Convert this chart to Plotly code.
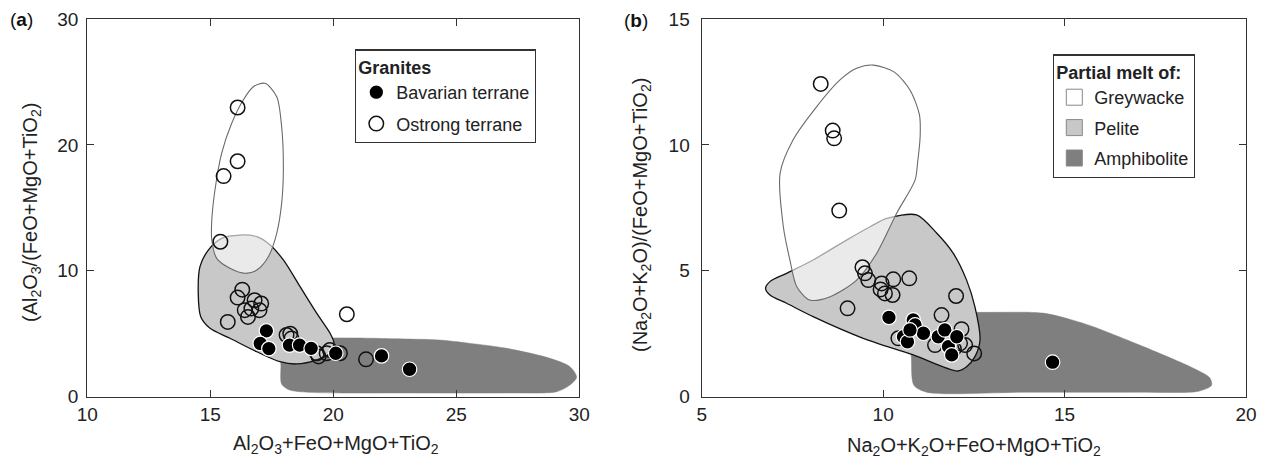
import plotly.graph_objects as go

# ---------------- data: panel (a) ----------------
a_ostrong_x = [16.11, 16.11, 15.54, 15.41, 16.30, 16.11, 16.80, 17.07, 16.40, 16.67, 17.00,
               16.53, 15.71, 20.55, 18.10, 18.30, 18.25, 19.33, 19.73, 19.86, 20.27, 21.33, 19.40]
a_ostrong_y = [22.97, 18.70, 17.52, 12.31, 8.50, 7.87, 7.66, 7.40, 6.87, 7.00, 6.87,
               6.34, 5.94, 6.55, 4.90, 4.63, 5.00, 3.45, 3.45, 3.71, 3.45, 2.97, 3.20]
a_bav_x = [17.28, 17.03, 17.38, 18.22, 18.63, 19.10, 20.10, 21.96, 23.10]
a_bav_y = [5.23, 4.23, 3.82, 4.10, 4.10, 3.84, 3.45, 3.24, 2.18]

a_grey_x = [17.22, 17.70, 17.90, 17.97, 17.90, 17.70, 17.36, 16.89, 16.41, 15.80, 15.26,
            15.06, 15.06, 15.19, 15.46, 15.87, 16.34, 16.75, 17.22]
a_grey_y = [24.89, 23.83, 21.45, 18.00, 15.36, 12.98, 11.12, 10.06, 9.80, 10.20, 10.99,
            12.45, 14.03, 16.42, 19.33, 21.72, 23.57, 24.62, 24.89]
a_pel_x = [16.21, 16.89, 17.43, 17.97, 18.65, 19.33, 19.87, 20.03, 19.87, 19.33, 18.51,
           17.83, 16.89, 15.80, 14.99, 14.61, 14.51, 14.58, 14.92, 15.46, 16.21]
a_pel_y = [12.84, 12.71, 12.05, 10.86, 8.74, 6.62, 5.04, 4.24, 3.45, 2.92, 2.60,
           2.78, 3.57, 4.64, 5.43, 6.35, 8.21, 10.33, 11.65, 12.58, 12.84]
a_amp_x = [17.87, 18.10, 19.00, 21.00, 22.50, 24.30, 25.50, 27.05, 28.80, 29.62, 29.89,
           29.60, 29.08, 27.00, 23.00, 19.00, 18.20, 17.90, 17.87, 17.87]
a_amp_y = [4.30, 4.62, 4.66, 4.66, 4.60, 4.50, 4.25, 3.84, 3.05, 2.38, 1.55,
           0.90, 0.40, 0.30, 0.30, 0.35, 0.55, 1.00, 2.50, 4.30]

# ---------------- data: panel (b) ----------------
b_ostrong_x = [8.28, 8.61, 8.65, 8.79, 9.43, 9.50, 9.59, 9.96, 10.28, 10.72, 10.05, 10.26,
               9.93, 9.02, 12.01, 11.61, 12.16, 12.51, 12.12, 12.26, 11.43, 10.42, 11.75, 11.95]
b_ostrong_y = [12.42, 10.57, 10.26, 7.39, 5.14, 4.90, 4.63, 4.50, 4.66, 4.70, 4.10, 4.04,
               4.26, 3.51, 4.00, 3.24, 2.68, 1.72, 2.12, 2.05, 2.05, 2.32, 2.40, 1.90]
b_bav_x = [10.16, 10.83, 10.88, 11.11, 10.56, 10.67, 11.52, 11.70, 11.80, 11.89, 12.03, 10.74, 14.67]
b_bav_y = [3.15, 3.05, 2.85, 2.52, 2.38, 2.18, 2.38, 2.65, 1.99, 1.66, 2.38, 2.65, 1.37]

b_grey_x = [9.27, 9.73, 10.30, 10.74, 11.00, 11.02, 10.95, 10.88, 10.37, 9.82, 9.27,
            8.54, 7.98, 7.62, 7.43, 7.25, 7.16, 7.52, 8.17, 8.81, 9.27]
b_grey_y = [13.04, 13.17, 12.90, 12.18, 11.20, 10.33, 9.30, 8.60, 7.28, 5.69, 4.63,
            3.97, 3.84, 4.37, 5.43, 6.75, 8.87, 10.20, 11.52, 12.58, 13.04]
b_pel_x = [10.10, 10.92, 11.48, 11.93, 12.30, 12.53, 12.67, 12.53, 12.30, 12.05, 10.83,
           9.45, 8.07, 7.34, 6.88, 6.76, 6.88, 7.34, 8.07, 8.99, 9.64, 10.10]
b_pel_y = [7.08, 7.22, 6.49, 5.70, 4.63, 3.57, 2.25, 1.59, 1.19, 1.02, 1.66,
           2.32, 3.18, 3.71, 4.04, 4.30, 4.57, 4.90, 5.43, 6.22, 6.75, 7.08]
b_amp_x = [10.79, 10.95, 11.50, 13.00, 14.40, 15.20, 15.79, 17.17, 18.55, 19.00, 19.05,
           18.70, 17.00, 14.00, 11.20, 10.85, 10.78, 10.79]
b_amp_y = [2.90, 3.22, 3.32, 3.35, 3.32, 3.05, 2.78, 1.99, 1.13, 0.75, 0.45,
           0.22, 0.18, 0.18, 0.18, 0.45, 1.50, 2.90]

a_xticks = [10, 15, 20, 25, 30]
a_yticks = [0, 10, 20, 30]
a_yticks_right = [6, 12, 18, 24]
b_xticks = [5, 10, 15, 20]
b_yticks = [0, 5, 10, 15]

melt_names = ["Greywacke", "Pelite", "Amphibolite"]
melt_colors = ["#ffffff", "#c8c8c8", "#7f7f7f"]

FONT = "Liberation Sans, Arial, sans-serif"
W, H = 1268, 471


def px(v):
    return v / W


def py(v):
    return 1 - v / H


fig = go.Figure()


def add_panel(xa, ya, grey, pel, amp, ost, bav, first):
    fig.add_trace(go.Scatter(x=amp[0], y=amp[1], xaxis=xa, yaxis=ya, mode="lines",
                             fill="toself", fillcolor=melt_colors[2],
                             line=dict(color=melt_colors[2], width=0.5, shape="spline", smoothing=0.8),
                             showlegend=False, hoverinfo="skip"))
    fig.add_trace(go.Scatter(x=pel[0], y=pel[1], xaxis=xa, yaxis=ya, mode="lines",
                             fill="toself", fillcolor=melt_colors[1],
                             line=dict(color="#111111", width=1.3, shape="spline", smoothing=0.8),
                             showlegend=False, hoverinfo="skip"))
    fig.add_trace(go.Scatter(x=grey[0], y=grey[1], xaxis=xa, yaxis=ya, mode="lines",
                             fill="toself", fillcolor="rgba(255,255,255,0.62)",
                             line=dict(color="#6a6a6a", width=1.1, shape="spline", smoothing=0.8),
                             showlegend=False, hoverinfo="skip"))
    fig.add_trace(go.Scatter(x=ost[0], y=ost[1], xaxis=xa, yaxis=ya, mode="markers",
                             name="Ostrong terrane", legendrank=2, legendgroup="ost",
                             marker=dict(size=14.5, color="rgba(0,0,0,0)",
                                         line=dict(color="#111111", width=1.5)),
                             showlegend=first, legend="legend"))
    fig.add_trace(go.Scatter(x=bav[0], y=bav[1], xaxis=xa, yaxis=ya, mode="markers",
                             name="Bavarian terrane", legendrank=1, legendgroup="bav",
                             marker=dict(size=14.5, color="#000000",
                                         line=dict(color="#ffffff", width=1.2)),
                             showlegend=first, legend="legend"))


add_panel("x", "y", (a_grey_x, a_grey_y), (a_pel_x, a_pel_y), (a_amp_x, a_amp_y),
          (a_ostrong_x, a_ostrong_y), (a_bav_x, a_bav_y), True)
add_panel("x2", "y2", (b_grey_x, b_grey_y), (b_pel_x, b_pel_y), (b_amp_x, b_amp_y),
          (b_ostrong_x, b_ostrong_y), (b_bav_x, b_bav_y), False)

for i, (nm, col) in enumerate(zip(melt_names, melt_colors)):
    fig.add_trace(go.Scatter(x=[None], y=[None], xaxis="x2", yaxis="y2", mode="markers",
                             name=nm, legend="legend2", legendrank=i + 1, legendgroup=nm,
                             marker=dict(symbol="square", size=16, color=col,
                                         line=dict(color="#888888", width=1))))

TICKFONT = dict(family=FONT, size=19, color="#222222")
axis_common = dict(showgrid=False, zeroline=False, showline=True, linecolor="#333333",
                   linewidth=1.3, ticks="inside", ticklen=7, tickcolor="#333333", tickwidth=1.2,
                   tickfont=TICKFONT, automargin=False)

yd = [py(396.7), py(19)]
LEGFONT = dict(family=FONT, size=18, color="#222222")
fig.update_layout(
    width=W, height=H, margin=dict(l=0, r=0, t=0, b=0),
    paper_bgcolor="white", plot_bgcolor="white",
    font=dict(family=FONT, color="#222222"),
    xaxis=dict(domain=[px(87.3), px(579.3)], range=[10, 30], tickvals=a_xticks,
               mirror="ticks", anchor="y", **axis_common),
    yaxis=dict(domain=yd, range=[0, 30], tickvals=a_yticks, mirror=True, anchor="x",
               ticklabelstandoff=4, **axis_common),
    yaxis3=dict(overlaying="y", side="right", anchor="x", range=[0, 30], tickvals=a_yticks_right,
                showticklabels=False, showgrid=False, zeroline=False, showline=False,
                ticks="inside", ticklen=7, tickcolor="#333333", tickwidth=1.2),
    xaxis2=dict(domain=[px(701.7), px(1246)], range=[5, 20], tickvals=b_xticks,
                mirror="ticks", anchor="y2", **axis_common),
    yaxis2=dict(domain=yd, range=[0, 15], tickvals=b_yticks, mirror="ticks", anchor="x2",
                ticklabelstandoff=7, **axis_common),
    legend=dict(x=px(355), y=py(49.3), xanchor="left", yanchor="top",
                bgcolor="white", bordercolor="#333333", borderwidth=1.3,
                font=LEGFONT, tracegroupgap=5,
                title=dict(text="<b>Granites</b>", font=LEGFONT),
                itemwidth=30, traceorder="grouped"),
    legend2=dict(x=px(1053), y=py(54.3), xanchor="left", yanchor="top",
                 bgcolor="white", bordercolor="#333333", borderwidth=1.3,
                 font=LEGFONT, tracegroupgap=4,
                 title=dict(text="<b>Partial melt of:</b>", font=LEGFONT),
                 itemwidth=30, traceorder="grouped"),
)

ann = [
    dict(text="Al<sub>2</sub>O<sub>3</sub>+FeO+MgO+TiO<sub>2</sub>", x=px(336), y=py(444)),
    dict(text="Na<sub>2</sub>O+K<sub>2</sub>O+FeO+MgO+TiO<sub>2</sub>", x=px(974), y=py(446)),
    dict(text="(Al<sub>2</sub>O<sub>3</sub>/(FeO+MgO+TiO<sub>2</sub>)", x=px(31), y=py(213), textangle=-90),
    dict(text="(Na<sub>2</sub>O+K<sub>2</sub>O)/(FeO+MgO+TiO<sub>2</sub>)", x=px(641), y=py(215), textangle=-90),
]
for a in ann:
    fig.add_annotation(xref="paper", yref="paper", showarrow=False, xanchor="center",
                       yanchor="middle", font=dict(family=FONT, size=20, color="#222222"), **a)
fig.add_annotation(text="(<b>a</b>)", xref="paper", yref="paper", x=px(8), y=py(20),
                   xanchor="left", yanchor="middle", showarrow=False,
                   font=dict(family=FONT, size=19, color="#111111"))
fig.add_annotation(text="(<b>b</b>)", xref="paper", yref="paper", x=px(622), y=py(21),
                   xanchor="left", yanchor="middle", showarrow=False,
                   font=dict(family=FONT, size=19, color="#111111"))

fig.write_html("out.html")
